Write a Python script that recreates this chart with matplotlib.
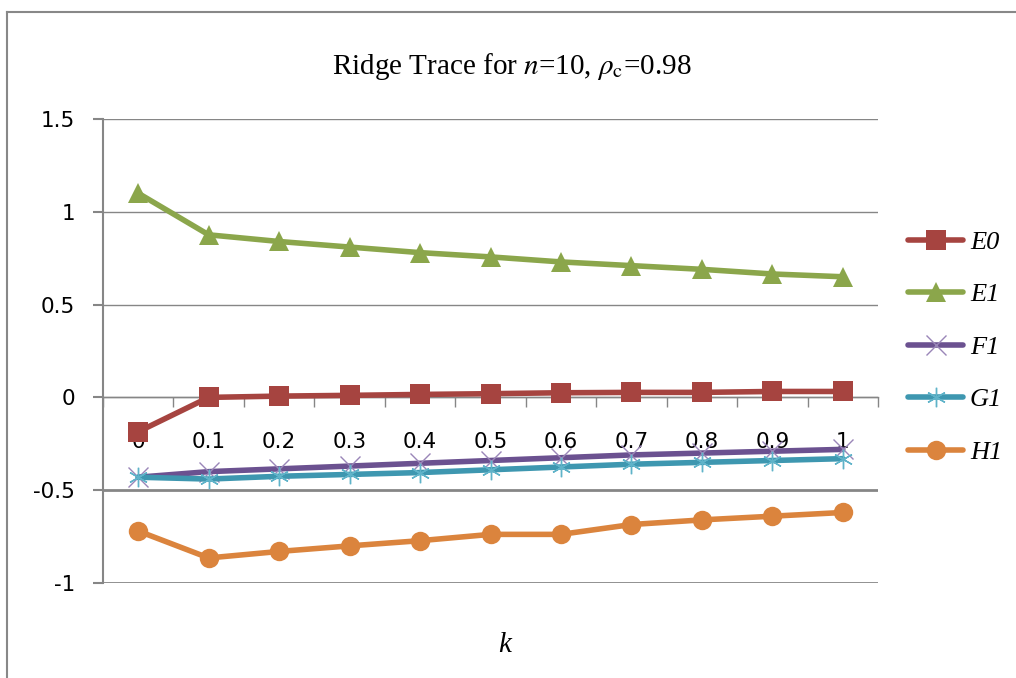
import matplotlib
matplotlib.use("Agg")
import matplotlib.pyplot as plt
from matplotlib.lines import Line2D
from matplotlib.font_manager import FontProperties

# Ridge parameter values (categories)
k_labels = ["0", "0.1", "0.2", "0.3", "0.4", "0.5", "0.6", "0.7", "0.8", "0.9", "1"]

# Coefficient traces
E0 = [-0.185, 0.0, 0.007, 0.011, 0.016, 0.02, 0.025, 0.027, 0.027, 0.032, 0.032]
E1 = [1.10, 0.876, 0.84, 0.81, 0.78, 0.757, 0.73, 0.71, 0.69, 0.665, 0.65]
F1 = [-0.43, -0.40, -0.385, -0.37, -0.355, -0.34, -0.325, -0.31, -0.30, -0.29, -0.28]
G1 = [-0.43, -0.44, -0.425, -0.415, -0.405, -0.39, -0.375, -0.36, -0.35, -0.34, -0.33]
H1 = [-0.72, -0.865, -0.83, -0.80, -0.772, -0.738, -0.738, -0.685, -0.66, -0.64, -0.62]

y_ticks = [-1, -0.5, 0, 0.5, 1, 1.5]
y_tick_labels = ["-1", "-0.5", "0", "0.5", "1", "1.5"]

series = [
    ("E0", E0, "#A64440", "s", "#A64440", 14),
    ("E1", E1, "#8BA64B", "^", "#8BA64B", 15),
    ("F1", F1, "#6B5190", "x", "#9A86B8", 14),
    ("G1", G1, "#3E97B0", (6, 2, 0), "#5FB3C9", 14),
    ("H1", H1, "#DB843D", "o", "#DB843D", 14),
]

plt.rcParams["mathtext.fontset"] = "stix"

W, H = 1016, 678
fig = plt.figure(figsize=(W / 100, H / 100), dpi=100)
fig.patch.set_facecolor("white")

ax = fig.add_axes([103 / W, 1 - 583 / H, (878 - 103) / W, (583 - 119) / H])

x = list(range(len(k_labels)))
for name, vals, color, marker, mcolor, ms in series:
    if marker == "x" or isinstance(marker, tuple):
        ax.plot(x, vals, color=color, lw=4, marker=marker, markersize=ms,
                markeredgecolor=mcolor, markeredgewidth=1.0, label=name,
                solid_capstyle="round", zorder=3)
    else:
        ax.plot(x, vals, color=color, lw=4, marker=marker, markersize=ms,
                markerfacecolor=mcolor, markeredgecolor=mcolor, markeredgewidth=0,
                label=name, solid_capstyle="round", zorder=3)

ax.set_xlim(-0.5, len(k_labels) - 0.5)
ax.set_ylim(-1, 1.5)

# y axis
ax.set_yticks(y_ticks)
ax.set_yticklabels(y_tick_labels)
ax.tick_params(axis="y", direction="out", length=7, width=1.5, color="#868686",
               pad=13, labelsize=15.5)
ax.yaxis.grid(True, color="#868686", linewidth=1.0)
ax.set_axisbelow(True)
for val, gl in zip(y_ticks, ax.get_ygridlines()):
    if val < 0:
        gl.set_linewidth(2.0)

# x axis crosses at zero, ticks between categories
ax.spines["bottom"].set_position(("data", 0))
ax.spines["bottom"].set_color("#868686")
ax.spines["bottom"].set_linewidth(1.0)
ax.spines["left"].set_color("#868686")
ax.spines["left"].set_linewidth(1.5)
ax.spines["top"].set_visible(False)
ax.spines["right"].set_visible(False)

ax.set_xticks(x)
ax.set_xticklabels(k_labels)
ax.set_xticks([i + 0.5 for i in range(-1, len(k_labels))], minor=True)
ax.tick_params(axis="x", which="major", length=0, pad=25, labelsize=15.5)
ax.tick_params(axis="x", which="minor", direction="out", length=7, width=1.0,
               color="#868686")

# Title and axis label
fig.text(0.504, 1 - 66 / H, r"Ridge Trace for $n$=10, $\rho_{\mathrm{c}}$=0.98",
         ha="center", va="center", fontsize=21, family="Liberation Serif")
fig.text(505 / W, 1 - 645 / H, "k", ha="center", va="center", fontsize=21,
         family="Liberation Serif", style="italic")

leg = ax.legend(loc="center left", bbox_to_anchor=(908 / W, 1 - 347 / H),
                bbox_transform=fig.transFigure, frameon=False, borderpad=0,
                borderaxespad=0, handlelength=2.1, handletextpad=0.25,
                labelspacing=1.1,
                prop=FontProperties(family="Liberation Serif", style="italic", size=19))

# Outer chart border
border_kw = dict(color="#888888", linewidth=1.5, transform=fig.transFigure)
fig.add_artist(Line2D([7 / W, 7 / W], [0, 1 - 12 / H], **border_kw))
fig.add_artist(Line2D([7 / W, 1], [1 - 12 / H, 1 - 12 / H], **border_kw))

fig.savefig("out.png", dpi=100)
